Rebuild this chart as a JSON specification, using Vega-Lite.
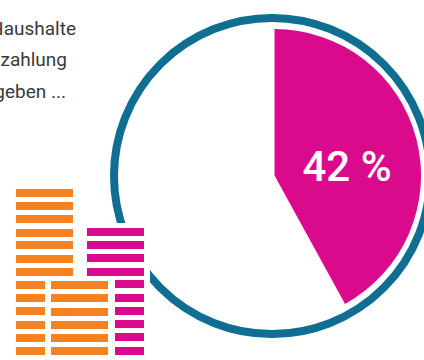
{
  "$schema": "https://vega.github.io/schema/vega-lite/v6.json",
  "width": 424,
  "height": 360,
  "padding": 0,
  "autosize": {"type": "none"},
  "background": "white",
  "view": {"stroke": null},
  "datasets": {
    "ring": [{"cx": 272, "cy": 176}],
    "mask": [{"x0": 0, "x1": 150, "y0": 223, "y1": 360}],
    "shares": [
      {"group": "betroffen", "share": 42, "cx": 274.5, "cy": 175.5},
      {"group": "rest", "share": 58, "cx": 274.5, "cy": 175.5}
    ],
    "bricks": [
      {"x0": 16, "x1": 73, "y0": 189, "y1": 197, "kind": "orange"},
      {"x0": 16, "x1": 73, "y0": 202, "y1": 210, "kind": "orange"},
      {"x0": 16, "x1": 73, "y0": 215, "y1": 223, "kind": "orange"},
      {"x0": 16, "x1": 73, "y0": 229, "y1": 237, "kind": "orange"},
      {"x0": 16, "x1": 73, "y0": 241, "y1": 249, "kind": "orange"},
      {"x0": 16, "x1": 73, "y0": 255, "y1": 263, "kind": "orange"},
      {"x0": 16, "x1": 73, "y0": 268, "y1": 276, "kind": "orange"},
      {"x0": 87, "x1": 144, "y0": 228, "y1": 236, "kind": "magenta"},
      {"x0": 87, "x1": 144, "y0": 241, "y1": 249, "kind": "magenta"},
      {"x0": 87, "x1": 144, "y0": 254, "y1": 262, "kind": "magenta"},
      {"x0": 87, "x1": 144, "y0": 268, "y1": 276, "kind": "magenta"},
      {"x0": 16, "x1": 45, "y0": 281, "y1": 289, "kind": "orange"},
      {"x0": 16, "x1": 45, "y0": 294, "y1": 302, "kind": "orange"},
      {"x0": 16, "x1": 45, "y0": 307, "y1": 315, "kind": "orange"},
      {"x0": 16, "x1": 45, "y0": 321, "y1": 329, "kind": "orange"},
      {"x0": 16, "x1": 45, "y0": 334, "y1": 342, "kind": "orange"},
      {"x0": 16, "x1": 45, "y0": 347, "y1": 355, "kind": "orange"},
      {"x0": 51, "x1": 108, "y0": 281, "y1": 289, "kind": "orange"},
      {"x0": 51, "x1": 108, "y0": 294, "y1": 302, "kind": "orange"},
      {"x0": 51, "x1": 108, "y0": 308, "y1": 316, "kind": "orange"},
      {"x0": 51, "x1": 108, "y0": 321, "y1": 329, "kind": "orange"},
      {"x0": 51, "x1": 108, "y0": 334, "y1": 342, "kind": "orange"},
      {"x0": 51, "x1": 108, "y0": 347, "y1": 355, "kind": "orange"},
      {"x0": 115, "x1": 144, "y0": 280, "y1": 288, "kind": "magenta"},
      {"x0": 115, "x1": 144, "y0": 294, "y1": 302, "kind": "magenta"},
      {"x0": 115, "x1": 144, "y0": 307, "y1": 315, "kind": "magenta"},
      {"x0": 115, "x1": 144, "y0": 320, "y1": 328, "kind": "magenta"},
      {"x0": 115, "x1": 144, "y0": 333, "y1": 341, "kind": "magenta"},
      {"x0": 115, "x1": 144, "y0": 347, "y1": 355, "kind": "magenta"}
    ],
    "caption": [
      {"line": "Haushalte", "xr": 76, "yb": 35},
      {"line": "zahlung", "xr": 67, "yb": 66},
      {"line": "geben ...", "xr": 66, "yb": 98}
    ],
    "value": [{"label": "42 %", "xc": 347, "yb": 181}]
  },
  "layer": [
    {
      "data": {"name": "ring"},
      "mark": {"type": "point", "shape": "circle", "filled": false, "stroke": "#0f6e92", "strokeWidth": 8, "size": 99856, "opacity": 1},
      "encoding": {
        "x": {"field": "cx", "type": "quantitative", "scale": {"domain": [0, 424], "nice": false, "zero": false}, "axis": null},
        "y": {"field": "cy", "type": "quantitative", "scale": {"domain": [0, 360], "reverse": true, "nice": false, "zero": false}, "axis": null}
      }
    },
    {
      "data": {"name": "mask"},
      "mark": {"type": "rect", "fill": "white"},
      "encoding": {
        "x": {"field": "x0", "type": "quantitative", "axis": null, "scale": {"domain": [0, 424], "nice": false, "zero": false}},
        "x2": {"field": "x1"},
        "y": {"field": "y0", "type": "quantitative", "axis": null, "scale": {"domain": [0, 360], "reverse": true, "nice": false, "zero": false}},
        "y2": {"field": "y1"}
      }
    },
    {
      "data": {"name": "shares"},
      "mark": {"type": "arc", "radius": 146.5},
      "encoding": {
        "x": {"field": "cx", "type": "quantitative", "axis": null, "scale": {"domain": [0, 424], "nice": false, "zero": false}},
        "y": {"field": "cy", "type": "quantitative", "axis": null, "scale": {"domain": [0, 360], "reverse": true, "nice": false, "zero": false}},
        "theta": {"field": "share", "type": "quantitative", "scale": {"domain": [0, 100], "range": [0, 6.2832]}, "stack": true},
        "order": {"field": "group", "sort": "ascending"},
        "fill": {"field": "group", "type": "nominal", "legend": null, "scale": {"domain": ["betroffen", "rest"], "range": ["#d90b8c", "transparent"]}}
      }
    },
    {
      "data": {"name": "bricks"},
      "mark": {"type": "rect"},
      "encoding": {
        "x": {"field": "x0", "type": "quantitative", "axis": null, "scale": {"domain": [0, 424], "nice": false, "zero": false}},
        "x2": {"field": "x1"},
        "y": {"field": "y0", "type": "quantitative", "axis": null, "scale": {"domain": [0, 360], "reverse": true, "nice": false, "zero": false}},
        "y2": {"field": "y1"},
        "color": {"field": "kind", "type": "nominal", "legend": null, "scale": {"domain": ["orange", "magenta"], "range": ["#f58220", "#d90b8c"]}}
      }
    },
    {
      "data": {"name": "caption"},
      "mark": {"type": "text", "align": "right", "baseline": "alphabetic", "font": "Roboto", "fontSize": 19, "fill": "#3a3a3a"},
      "encoding": {
        "x": {"field": "xr", "type": "quantitative", "axis": null, "scale": {"domain": [0, 424], "nice": false, "zero": false}},
        "y": {"field": "yb", "type": "quantitative", "axis": null, "scale": {"domain": [0, 360], "reverse": true, "nice": false, "zero": false}},
        "text": {"field": "line"}
      }
    },
    {
      "data": {"name": "value"},
      "mark": {"type": "text", "align": "center", "baseline": "alphabetic", "font": "Roboto", "fontSize": 42, "fontWeight": 500, "fill": "white"},
      "encoding": {
        "x": {"field": "xc", "type": "quantitative", "axis": null, "scale": {"domain": [0, 424], "nice": false, "zero": false}},
        "y": {"field": "yb", "type": "quantitative", "axis": null, "scale": {"domain": [0, 360], "reverse": true, "nice": false, "zero": false}},
        "text": {"field": "label"}
      }
    }
  ],
  "resolve": {"scale": {"color": "independent", "fill": "independent"}}
}
